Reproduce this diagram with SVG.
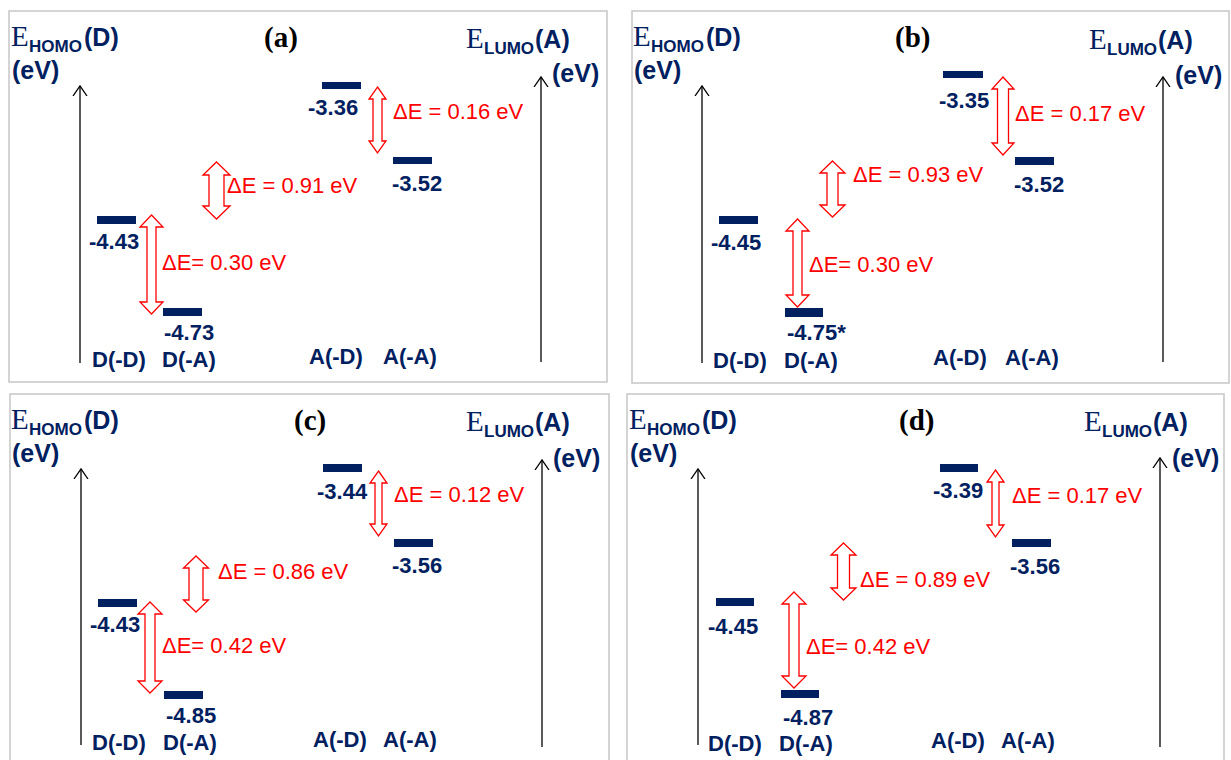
<svg xmlns="http://www.w3.org/2000/svg" width="1231" height="760" viewBox="0 0 1231 760">
<style>
.frame{fill:none;stroke:#c6c6c6;stroke-width:1.5}
.bar{fill:#002060}
.lv{font-family:"Liberation Sans",Arial,sans-serif;font-weight:bold;font-size:22px;fill:#002060}
.hd{font-family:"Liberation Sans",Arial,sans-serif;font-weight:bold;font-size:25px;fill:#002060}
.sub{font-family:"Liberation Sans",Arial,sans-serif;font-weight:bold;font-size:17px;fill:#002060}
.E{font-family:"Liberation Serif","Times New Roman",serif;font-size:29px;fill:#002060}
.pl{font-family:"Liberation Serif","Times New Roman",serif;font-weight:bold;font-size:29px;fill:#000}
.de{font-family:"Liberation Sans",Arial,sans-serif;font-size:22px;fill:#ff0000}
.axis{stroke:#000;stroke-width:1.3;fill:none}
.dbl{fill:#fff;stroke:#ff0000;stroke-width:1.3}
</style>
<defs>
<marker id="open" markerUnits="userSpaceOnUse" markerWidth="16" markerHeight="16" viewBox="0 0 16 16" refX="10" refY="8" orient="auto">
<path d="M0,1 L10,8 L0,15" fill="none" stroke="#000" stroke-width="1.3"/>
</marker>
</defs>
<rect fill="#fff" x="0" y="0" width="1231" height="760"/>

<g id="frames">
<rect class="frame" x="9" y="11" width="598" height="371"/>
<rect class="frame" x="632" y="11" width="597" height="372"/>
<rect class="frame" x="10" y="394" width="599" height="372"/>
<rect class="frame" x="627" y="394" width="597" height="372"/>
</g>

<g id="headers">
<text class="E" x="11" y="46">E</text><text class="sub" x="29" y="52">HOMO</text><text class="hd" x="84" y="46">(D)</text><text class="hd" x="12" y="79">(eV)</text>
<text class="pl" x="264" y="47">(a)</text>
<text class="E" x="466" y="48">E</text><text class="sub" x="484" y="54">LUMO</text><text class="hd" x="535" y="48">(A)</text><text class="hd" x="552" y="82">(eV)</text>

<text class="E" x="633" y="46">E</text><text class="sub" x="651" y="52">HOMO</text><text class="hd" x="706" y="46">(D)</text><text class="hd" x="634" y="79">(eV)</text>
<text class="pl" x="895" y="47">(b)</text>
<text class="E" x="1089" y="49">E</text><text class="sub" x="1107" y="55">LUMO</text><text class="hd" x="1158" y="49">(A)</text><text class="hd" x="1175" y="84">(eV)</text>

<text class="E" x="11" y="429">E</text><text class="sub" x="29" y="435">HOMO</text><text class="hd" x="84" y="429">(D)</text><text class="hd" x="12" y="462">(eV)</text>
<text class="pl" x="294" y="430">(c)</text>
<text class="E" x="466" y="431">E</text><text class="sub" x="484" y="437">LUMO</text><text class="hd" x="535" y="431">(A)</text><text class="hd" x="553" y="467">(eV)</text>

<text class="E" x="629" y="429">E</text><text class="sub" x="647" y="435">HOMO</text><text class="hd" x="702" y="429">(D)</text><text class="hd" x="630" y="462">(eV)</text>
<text class="pl" x="899" y="430">(d)</text>
<text class="E" x="1084" y="431">E</text><text class="sub" x="1102" y="437">LUMO</text><text class="hd" x="1153" y="431">(A)</text><text class="hd" x="1172" y="467">(eV)</text>
</g>

<!-- panel (a) nodes -->
<g id="a-AD"><rect class="bar" x="322" y="82" width="39" height="7"/><text class="lv" x="308" y="115">-3.36</text></g>
<g id="a-AA"><rect class="bar" x="393" y="157" width="39" height="7"/><text class="lv" x="392" y="191">-3.52</text></g>
<g id="a-DD"><rect class="bar" x="97" y="216" width="39" height="8"/><text class="lv" x="89" y="249">-4.43</text></g>
<g id="a-DA"><rect class="bar" x="163" y="308" width="39" height="8"/><text class="lv" x="164" y="340">-4.73</text></g>
<g id="a-labels"><text class="lv" x="92" y="367">D(-D)</text><text class="lv" x="162" y="367">D(-A)</text><text class="lv" x="309" y="364">A(-D)</text><text class="lv" x="383" y="364">A(-A)</text></g>

<!-- panel (b) nodes -->
<g id="b-AD"><rect class="bar" x="943" y="71" width="40" height="7"/><text class="lv" x="939" y="108">-3.35</text></g>
<g id="b-AA"><rect class="bar" x="1015" y="157" width="39" height="8"/><text class="lv" x="1014" y="192">-3.52</text></g>
<g id="b-DD"><rect class="bar" x="719" y="216" width="39" height="8"/><text class="lv" x="711" y="250">-4.45</text></g>
<g id="b-DA"><rect class="bar" x="785" y="308" width="38" height="9"/><text class="lv" x="787" y="340">-4.75*</text></g>
<g id="b-labels"><text class="lv" x="713" y="368">D(-D)</text><text class="lv" x="784" y="368">D(-A)</text><text class="lv" x="933" y="365">A(-D)</text><text class="lv" x="1005" y="365">A(-A)</text></g>

<!-- panel (c) nodes -->
<g id="c-AD"><rect class="bar" x="323" y="464" width="39" height="8"/><text class="lv" x="317" y="499">-3.44</text></g>
<g id="c-AA"><rect class="bar" x="394" y="539" width="39" height="8"/><text class="lv" x="392" y="573">-3.56</text></g>
<g id="c-DD"><rect class="bar" x="98" y="599" width="39" height="8"/><text class="lv" x="90" y="632">-4.43</text></g>
<g id="c-DA"><rect class="bar" x="164" y="691" width="39" height="8"/><text class="lv" x="166" y="723">-4.85</text></g>
<g id="c-labels"><text class="lv" x="92" y="750">D(-D)</text><text class="lv" x="163" y="750">D(-A)</text><text class="lv" x="313" y="747">A(-D)</text><text class="lv" x="383" y="747">A(-A)</text></g>

<!-- panel (d) nodes -->
<g id="d-AD"><rect class="bar" x="940" y="464" width="38" height="8"/><text class="lv" x="933" y="498">-3.39</text></g>
<g id="d-AA"><rect class="bar" x="1012" y="539" width="39" height="8"/><text class="lv" x="1010" y="574">-3.56</text></g>
<g id="d-DD"><rect class="bar" x="716" y="598" width="38" height="8"/><text class="lv" x="708" y="634">-4.45</text></g>
<g id="d-DA"><rect class="bar" x="781" y="690" width="38" height="8"/><text class="lv" x="783" y="725">-4.87</text></g>
<g id="d-labels"><text class="lv" x="708" y="751">D(-D)</text><text class="lv" x="779" y="751">D(-A)</text><text class="lv" x="931" y="748">A(-D)</text><text class="lv" x="1001" y="748">A(-A)</text></g>

<g id="connectors">
<line class="axis" x1="80" y1="363" x2="80" y2="86" marker-end="url(#open)"/>
<line class="axis" x1="541" y1="362" x2="541" y2="77" marker-end="url(#open)"/>
<line class="axis" x1="702" y1="363" x2="702" y2="86" marker-end="url(#open)"/>
<line class="axis" x1="1163" y1="362" x2="1163" y2="77" marker-end="url(#open)"/>
<line class="axis" x1="81" y1="745" x2="81" y2="469" marker-end="url(#open)"/>
<line class="axis" x1="542" y1="747" x2="542" y2="460" marker-end="url(#open)"/>
<line class="axis" x1="698" y1="745" x2="698" y2="469" marker-end="url(#open)"/>
<line class="axis" x1="1160" y1="747" x2="1160" y2="458" marker-end="url(#open)"/>

<polygon class="dbl" points="377.5,87 386,99 382,99 382,141 386,141 377.5,153 369,141 373,141 373,99 369,99"/>
<polygon class="dbl" points="216.5,162 230,175 224,175 224,206 230,206 216.5,219 203,206 209,206 209,175 203,175"/>
<polygon class="dbl" points="151.5,215 163,227 156,227 156,302 163,302 151.5,314 140,302 147,302 147,227 140,227"/>
<polygon class="dbl" points="1003,77 1014,89 1008.5,89 1008.5,143 1014,143 1003,155 992,143 997.5,143 997.5,89 992,89"/>
<polygon class="dbl" points="832.5,161 845,173 838,173 838,205 845,205 832.5,217 820,205 827,205 827,173 820,173"/>
<polygon class="dbl" points="797.5,219 809,231 802,231 802,295 809,295 797.5,307 786,295 793,295 793,231 786,231"/>
<polygon class="dbl" points="378.5,471 387,483 382,483 382,524 387,524 378.5,536 370,524 375,524 375,483 370,483"/>
<polygon class="dbl" points="196,556 208.5,568 203,568 203,600 208.5,600 196,612 183.5,600 189,600 189,568 183.5,568"/>
<polygon class="dbl" points="150,602 162,614 155,614 155,681 162,681 150,693 138,681 145,681 145,614 138,614"/>
<polygon class="dbl" points="995.5,470 1004,482 999,482 999,525 1004,525 995.5,537 987,525 992,525 992,482 987,482"/>
<polygon class="dbl" points="843.5,543 856,555 849.5,555 849.5,588 856,588 843.5,600 831,588 837.5,588 837.5,555 831,555"/>
<polygon class="dbl" points="794,592 806,604 799,604 799,676 806,676 794,688 782,676 789,676 789,604 782,604"/>
</g>

<g id="gap-labels">
<text class="de" x="393" y="119">ΔE = 0.16 eV</text>
<text class="de" x="227" y="193">ΔE = 0.91 eV</text>
<text class="de" x="162" y="270">ΔE= 0.30 eV</text>
<text class="de" x="1015" y="121">ΔE = 0.17 eV</text>
<text class="de" x="853" y="182">ΔE = 0.93 eV</text>
<text class="de" x="809" y="272">ΔE= 0.30 eV</text>
<text class="de" x="394" y="502">ΔE = 0.12 eV</text>
<text class="de" x="218" y="579">ΔE = 0.86 eV</text>
<text class="de" x="162" y="653">ΔE= 0.42 eV</text>
<text class="de" x="1012" y="503">ΔE = 0.17 eV</text>
<text class="de" x="860" y="587">ΔE = 0.89 eV</text>
<text class="de" x="806" y="654">ΔE= 0.42 eV</text>
</g>
</svg>
